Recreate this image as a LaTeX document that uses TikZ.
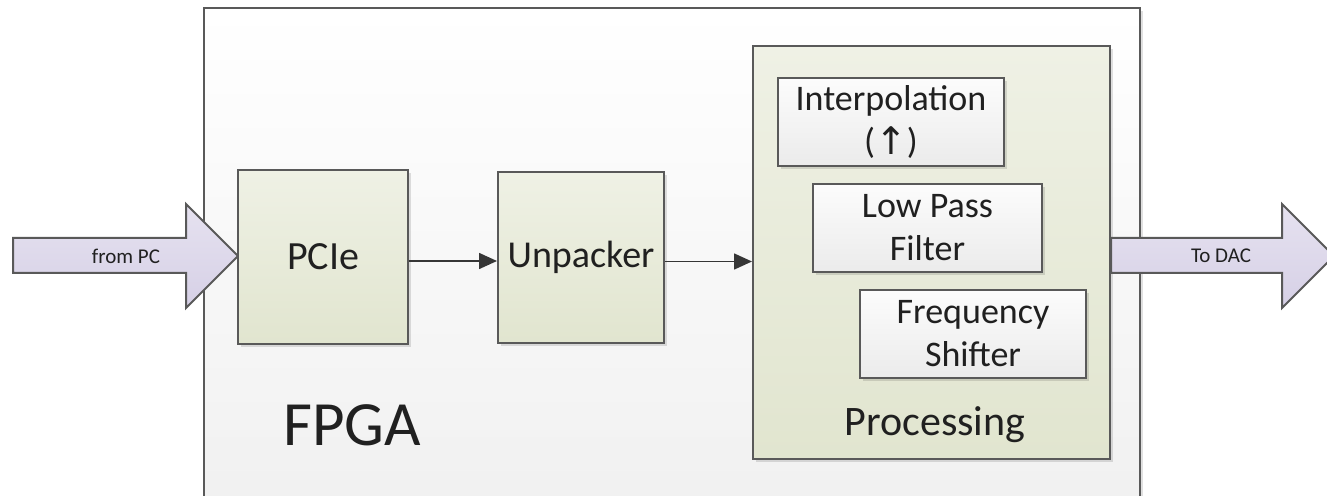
\documentclass[tikz,border=0pt]{standalone}
\usepackage{fontspec}
\setmainfont{Carlito}
\newfontfamily\symfont{DejaVu Sans}
\usetikzlibrary{shadows,arrows.meta}

\definecolor{edge}{HTML}{595959}
\definecolor{ink}{HTML}{202020}
\definecolor{greentop}{HTML}{EFF1E5}
\definecolor{greenbot}{HTML}{E1E5CF}
\definecolor{whitetop}{HTML}{FCFCFC}
\definecolor{whitebot}{HTML}{EBEBEB}
\definecolor{lilactop}{HTML}{E6E2F0}
\definecolor{lilacbot}{HTML}{D6D0E6}

\tikzset{
  softshadow/.style={drop shadow={shadow xshift=1.5pt,shadow yshift=-1.5pt,opacity=0.12,fill=black}},
  greenbox/.style={draw=edge,line width=1pt,top color=greentop,bottom color=greenbot,
    text=ink,align=center,inner sep=0pt,softshadow},
  whitebox/.style={draw=edge,line width=1pt,top color=whitetop,bottom color=whitebot,
    text=ink,align=center,inner sep=0pt,minimum height=44pt,softshadow,
    font=\fontsize{18}{21.5}\selectfont},
  bigarrow/.style={draw=edge,line width=1pt,top color=lilactop,bottom color=lilacbot},
  flow/.style={draw=ink!90,line width=0.8pt,-{Triangle[length=9pt,width=8pt]}},
  lbl/.style={text=ink,inner sep=0pt}
}

\begin{document}
\begin{tikzpicture}[x=0.5pt,y=-0.5pt]
  \clip (0,0) rectangle (1327,496);
  \fill[white] (0,0) rectangle (1327,496);

  % outer FPGA device
  \node[draw=edge,line width=1.2pt,top color=white,bottom color=white!94!black,
        minimum width=468pt,minimum height=262pt,inner sep=0pt,softshadow]
        (fpga) at (672,270) {};
  \node[lbl,font=\fontsize{31.5}{36}\selectfont] (fpgalabel) at (352,425) {FPGA};

  % input arrow
  \draw[bigarrow] (13,238) -- (186,238) -- (186,204) -- (238,256) -- (186,308)
        -- (186,273) -- (13,273) -- cycle;
  \node[lbl,font=\fontsize{10.5}{12}\selectfont] (frompc) at (126,256) {from PC};

  % pipeline blocks
  \node[greenbox,minimum width=85pt,minimum height=87pt,font=\fontsize{20}{23}\selectfont]
        (pcie) at (323,257) {PCIe};
  \node[greenbox,minimum width=83pt,minimum height=85.5pt,font=\fontsize{19}{23}\selectfont]
        (unp) at (581,257.5) {Unpacker};
  \node[greenbox,minimum width=178.5pt,minimum height=206.5pt]
        (proc) at (931.5,252.5) {};
  \node[lbl,font=\fontsize{21}{25}\selectfont] (proclabel) at (935,425) {Processing};

  % processing stages
  \node[whitebox,minimum width=113pt] (interp) at (891,122)
        {Interpolation\\(\raisebox{-0.5pt}{\symfont\fontsize{19}{20}\selectfont ↑})};
  \node[whitebox,minimum width=114.5pt] (lpf) at (927.5,228) {Low Pass\\Filter};
  \node[whitebox,minimum width=113pt] (fshift) at (973,334) {Frequency\\Shifter};

  % output arrow
  \draw[bigarrow] (proc.east |- 0,238) -- (1282,238) -- (1282,204) -- (1334,256)
        -- (1282,308) -- (1282,273) -- (proc.east |- 0,273) -- cycle;
  \node[lbl,font=\fontsize{10.5}{12}\selectfont] (todac) at (1221,256) {To DAC};

  % data flow
  \draw[flow] ([yshift=-2pt]pcie.east) -- ([yshift=-2pt]pcie.east -| unp.west);
  \draw[flow] ([yshift=-2pt]unp.east) -- ([yshift=-2pt]unp.east -| proc.west);
\end{tikzpicture}
\end{document}
